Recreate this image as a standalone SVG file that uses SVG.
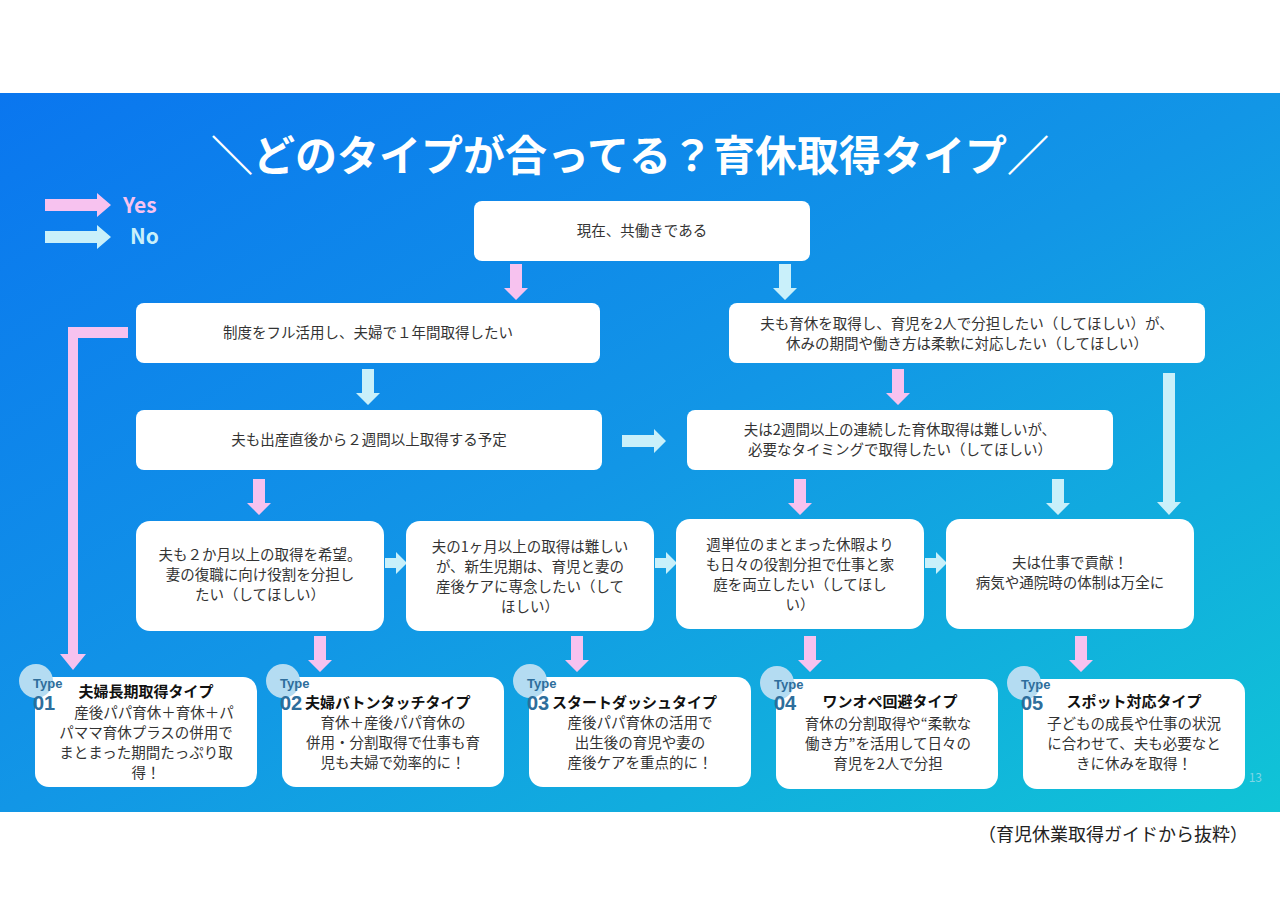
<svg xmlns="http://www.w3.org/2000/svg" width="1280" height="905" viewBox="0 0 1280 905">
<defs>
<linearGradient id="bg" x1="0" y1="0" x2="1" y2="1">
<stop offset="0" stop-color="#0a76ef"/><stop offset="0.5" stop-color="#1296e6"/><stop offset="1" stop-color="#10c4d6"/>
</linearGradient>
<style>
text{font-family:"Noto Sans CJK JP","Noto Sans",sans-serif;}
.box{fill:#fff;}
.t{font-size:14.5px;fill:#333;text-anchor:middle;}
.y{fill:#f7c2ef;}
.n{fill:#c9f0fa;}
.circ{fill:#b4dcf2;}
.ty{font-size:13px;font-weight:bold;fill:#2e6e9c;font-family:"Liberation Sans",sans-serif;}
.num{font-size:20px;font-weight:bold;fill:#2e6e9c;font-family:"Liberation Sans",sans-serif;}
.h{font-size:15px;font-weight:bold;fill:#111;}
</style>
</defs>
<rect width="1280" height="905" fill="#fff"/>
<rect x="0" y="93" width="1280" height="719" fill="url(#bg)"/>
<text x="630" y="171" font-size="42" font-weight="bold" fill="#fff" text-anchor="middle">＼どのタイプが合ってる？育休取得タイプ／</text>
<g id="legend">
<polygon class="y" points="45,199 97,199 97,193 111,205 97,217 97,211 45,211"/>
<polygon class="n" points="45,231 97,231 97,225 111,237 97,249 97,243 45,243"/>
<text x="123" y="213" font-size="21" font-weight="bold" fill="#f7c2ef" font-family="Liberation Sans,sans-serif">Yes</text>
<text x="130" y="244" font-size="21" font-weight="bold" fill="#c9f0fa" font-family="Liberation Sans,sans-serif">No</text>
</g>
<g id="connectors">
<polygon class="y" points="510,264 522,264 522,288 528,288 516,300 504,288 510,288"/>
<polygon class="n" points="779,264 791,264 791,288 797,288 785,300 773,288 779,288"/>
<polygon class="y" points="128,327 128,338 78,338 78,654 86,654 73,670 60,654 68,654 68,327"/>
<polygon class="n" points="362,369 374,369 374,393 380,393 368,405 356,393 362,393"/>
<polygon class="y" points="892,369 904,369 904,393 910,393 898,405 886,393 892,393"/>
<polygon class="n" points="1163,373 1175,373 1175,502 1181,502 1169,515 1157,502 1163,502"/>
<polygon class="n" points="622,435 654,435 654,429 666,441 654,453 654,447 622,447"/>
<polygon class="y" points="253,479 265,479 265,503 271,503 259,515 247,503 253,503"/>
<polygon class="y" points="794,479 806,479 806,503 812,503 800,515 788,503 794,503"/>
<polygon class="n" points="1052,479 1064,479 1064,503 1070,503 1058,515 1046,503 1052,503"/>
<polygon class="n" points="385,558 396,558 396,552 407,563 396,574 396,568 385,568"/>
<polygon class="n" points="655,558 666,558 666,552 677,563 666,574 666,568 655,568"/>
<polygon class="n" points="925,558 936,558 936,552 947,563 936,574 936,568 925,568"/>
<polygon class="y" points="314,636 326,636 326,660 332,660 320,672 308,660 314,660"/>
<polygon class="y" points="571,636 583,636 583,660 589,660 577,672 565,660 571,660"/>
<polygon class="y" points="804,636 816,636 816,660 822,660 810,672 798,660 804,660"/>
<polygon class="y" points="1075,636 1087,636 1087,660 1093,660 1081,672 1069,660 1075,660"/>
</g>
<g id="q1"><rect class="box" x="474" y="201" width="336" height="60" rx="8"/><text class="t" x="642" y="236">現在、共働きである</text></g>
<g id="q2"><rect class="box" x="136" y="303" width="464" height="60" rx="8"/><text class="t" x="368" y="338">制度をフル活用し、夫婦で１年間取得したい</text></g>
<g id="q3"><rect class="box" x="729" y="303" width="476" height="60" rx="8"/><text class="t" x="967" y="329">夫も育休を取得し、育児を2人で分担したい（してほしい）が、</text><text class="t" x="967" y="349">休みの期間や働き方は柔軟に対応したい（してほしい）</text></g>
<g id="q4"><rect class="box" x="136" y="410" width="466" height="60" rx="8"/><text class="t" x="369" y="445">夫も出産直後から２週間以上取得する予定</text></g>
<g id="q5"><rect class="box" x="687" y="410" width="426" height="60" rx="8"/><text class="t" x="900" y="435">夫は2週間以上の連続した育休取得は難しいが、</text><text class="t" x="900" y="455">必要なタイミングで取得したい（してほしい）</text></g>
<g id="q6"><rect class="box" x="136" y="521" width="248" height="110" rx="14"/><text class="t" x="260" y="560">夫も２か月以上の取得を希望。</text><text class="t" x="260" y="580">妻の復職に向け役割を分担し</text><text class="t" x="260" y="600">たい（してほしい）</text></g>
<g id="q7"><rect class="box" x="406" y="521" width="248" height="110" rx="14"/><text class="t" x="530" y="552">夫の1ヶ月以上の取得は難しい</text><text class="t" x="530" y="572">が、新生児期は、育児と妻の</text><text class="t" x="530" y="592">産後ケアに専念したい（して</text><text class="t" x="530" y="612">ほしい）</text></g>
<g id="q8"><rect class="box" x="676" y="519" width="248" height="110" rx="14"/><text class="t" x="800" y="550">週単位のまとまった休暇より</text><text class="t" x="800" y="570">も日々の役割分担で仕事と家</text><text class="t" x="800" y="590">庭を両立したい（してほし</text><text class="t" x="800" y="610">い）</text></g>
<g id="q9"><rect class="box" x="946" y="519" width="248" height="110" rx="14"/><text class="t" x="1070" y="568">夫は仕事で貢献！</text><text class="t" x="1070" y="588">病気や通院時の体制は万全に</text></g>
<g id="type01"><rect class="box" x="35" y="677" width="222" height="110" rx="14"/><circle class="circ" cx="36" cy="681" r="17"/><text class="ty" x="33" y="688">Type</text><text class="num" x="33" y="710">01</text><text class="h" x="146" y="697" text-anchor="middle">夫婦長期取得タイプ</text><text class="t" x="154" y="718">産後パパ育休＋育休＋パ</text><text class="t" x="146" y="738">パママ育休プラスの併用で</text><text class="t" x="146" y="758">まとまった期間たっぷり取</text><text class="t" x="146" y="778">得！</text></g>
<g id="type02"><rect class="box" x="282" y="677" width="222" height="110" rx="14"/><circle class="circ" cx="283" cy="681" r="17"/><text class="ty" x="280" y="688">Type</text><text class="num" x="280" y="710">02</text><text class="h" x="305" y="708">夫婦バトンタッチタイプ</text><text class="t" x="393" y="728">育休＋産後パパ育休の</text><text class="t" x="393" y="748">併用・分割取得で仕事も育</text><text class="t" x="393" y="768">児も夫婦で効率的に！</text></g>
<g id="type03"><rect class="box" x="529" y="677" width="222" height="110" rx="14"/><circle class="circ" cx="530" cy="681" r="17"/><text class="ty" x="527" y="688">Type</text><text class="num" x="527" y="710">03</text><text class="h" x="552" y="708">スタートダッシュタイプ</text><text class="t" x="640" y="728">産後パパ育休の活用で</text><text class="t" x="640" y="748">出生後の育児や妻の</text><text class="t" x="640" y="768">産後ケアを重点的に！</text></g>
<g id="type04"><rect class="box" x="776" y="679" width="222" height="110" rx="14"/><circle class="circ" cx="777" cy="683" r="17"/><text class="ty" x="774" y="689">Type</text><text class="num" x="774" y="710">04</text><text class="h" x="890" y="707" text-anchor="middle">ワンオペ回避タイプ</text><text class="t" x="888" y="729">育休の分割取得や“柔軟な</text><text class="t" x="888" y="749">働き方”を活用して日々の</text><text class="t" x="888" y="769">育児を2人で分担</text></g>
<g id="type05"><rect class="box" x="1023" y="679" width="222" height="110" rx="14"/><circle class="circ" cx="1024" cy="683" r="17"/><text class="ty" x="1021" y="689">Type</text><text class="num" x="1021" y="710">05</text><text class="h" x="1134" y="707" text-anchor="middle">スポット対応タイプ</text><text class="t" x="1134" y="729">子どもの成長や仕事の状況</text><text class="t" x="1134" y="749">に合わせて、夫も必要なと</text><text class="t" x="1134" y="769">きに休みを取得！</text></g>
<text x="1262" y="782" font-size="12" fill="#7fd6e6" text-anchor="end" font-family="Liberation Sans,sans-serif">13</text>
<text x="1248" y="841" font-size="18" fill="#222" text-anchor="end">（育児休業取得ガイドから抜粋）</text>
</svg>
